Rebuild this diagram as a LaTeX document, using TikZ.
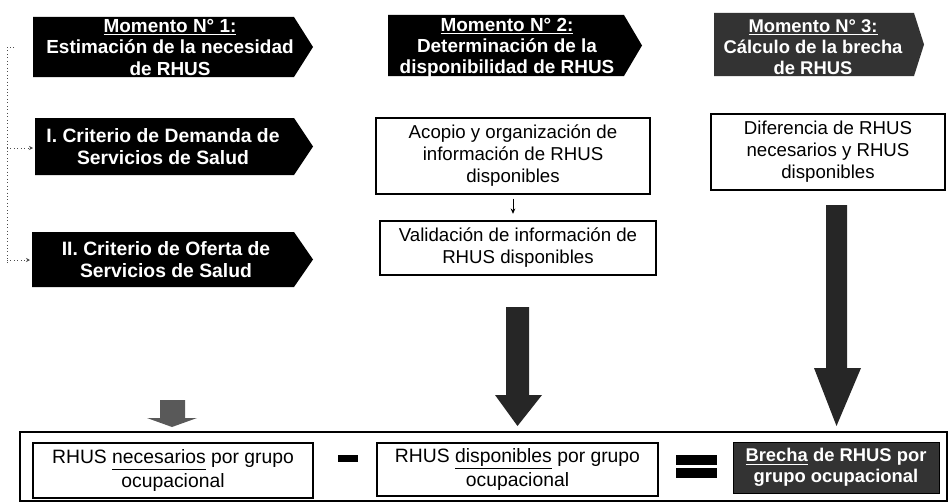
\documentclass[tikz,border=0pt]{standalone}
\usepackage{fontspec}
\setmainfont{Liberation Sans}
\usetikzlibrary{arrows.meta}
\newcommand\ulp[1]{\underline{#1\vphantom{p}}}
\begin{document}
\begin{tikzpicture}[x=0.75pt,y=-0.75pt,
  chevtxt/.style={text=white,font=\fontsize{14.2}{16}\selectfont\bfseries,align=center,inner sep=0pt},
  box/.style={draw=black,line width=0.8pt,fill=white,align=center,inner sep=2pt,font=\fontsize{14}{16.5}\selectfont},
  botbox/.style={box,font=\fontsize{14.5}{18}\selectfont},
  bigarrow/.style={fill=black!85},
  dotline/.style={dotted,line width=0.6pt,black!70}]
\useasboundingbox (0,0) rectangle (948,503);

% ---- chevrons (top row)
\fill[black] (33,17) -- (294,17) -- (313,47) -- (294,77) -- (33,77) -- cycle;
\node[chevtxt] (m1) at (170,47.5) {\underline{Momento N° 1:}\\Estimación de la necesidad\\de RHUS};

\fill[black] (388,15) -- (624,15) -- (642,45.5) -- (624,76) -- (388,76) -- cycle;
\node[chevtxt] (m2) at (507,48) {\underline{Momento N° 2:}\\Determinación de la\\disponibilidad de RHUS};

\fill[black!80] (714,13) -- (914,13) -- (924,44.5) -- (914,76) -- (714,76) -- cycle;
\node[chevtxt,font=\fontsize{13.8}{16}\selectfont\bfseries] (m3) at (813,47) {\underline{Momento N° 3:}\\Cálculo de la brecha\\de RHUS};

% ---- criteria chevrons
\fill[black] (35,118) -- (294,118) -- (313,146.5) -- (294,175) -- (35,175) -- cycle;
\node[chevtxt,font=\fontsize{14.5}{17}\selectfont\bfseries] (c1) at (163,146.5) {I. Criterio de Demanda de\\Servicios de Salud};

\fill[black] (32,232) -- (294,232) -- (313,259.5) -- (294,287) -- (32,287) -- cycle;
\node[chevtxt,font=\fontsize{14.5}{17}\selectfont\bfseries] (c2) at (166,259.5) {II. Criterio de Oferta de\\Servicios de Salud};

% ---- left dotted bracket
\coordinate (bt) at (14,47);
\coordinate (bc) at (7,47);
\coordinate (bb) at (7,262);
\coordinate (a1s) at (7,148);
\coordinate (a1e) at (33,148);
\coordinate (a2s) at (7,260);
\coordinate (a2e) at (30,260);
\draw[dotline] (bt) -- (bc) -- (bb);
\draw[dotline,-{Stealth[length=3pt,width=3pt]}] (a1s) -- (a1e);
\draw[dotline,-{Stealth[length=3pt,width=3pt]}] (a2s) -- (a2e);

% ---- process boxes
\node[box,minimum width=205.5pt,minimum height=57pt] (acopio) at (513,156) {Acopio y organización de\\información de RHUS\\disponibles};
\node[box,minimum width=207pt,minimum height=40.5pt] (valid) at (518,248) {Validación de información de\\RHUS disponibles};
\draw[line width=0.6pt,-{Stealth[length=4pt,width=3.5pt]},shorten <=3pt,shorten >=5pt] (acopio.south) -- (acopio.south |- valid.north);

\node[box,minimum width=175.5pt,minimum height=57pt] (dif) at (828,152) {Diferencia de RHUS\\necesarios y RHUS\\disponibles};

% ---- big arrows
\fill[bigarrow] (506,307) -- (529,307) -- (529,395) -- (542,395) -- (517.5,426) -- (495,395) -- (506,395) -- cycle;
\fill[bigarrow] (826,205) -- (847,205) -- (847,368) -- (861,368) -- (836.5,426) -- (814,368) -- (826,368) -- cycle;
\fill[black!65] (160,400) -- (185,400) -- (185,418) -- (197,418) -- (172,427) -- (147,418) -- (160,418) -- cycle;

% ---- bottom equation
\node[draw=black,line width=1pt,minimum width=695.25pt,minimum height=51.75pt,inner sep=0pt] (outer) at (483.5,466.5) {};
\node[botbox,minimum width=210pt,minimum height=41.25pt] (nec) at (173,470.5) {RHUS \ulp{necesarios} por grupo\\ocupacional};
\node[botbox,minimum width=210.75pt,minimum height=39.75pt] (disp) at (517.5,469.5) {RHUS \ulp{disponibles} por grupo\\ocupacional};
\node[draw=black,fill=black!80,minimum width=154.5pt,minimum height=38.25pt,inner sep=0pt,align=center,text=white,font=\fontsize{13.8}{15.5}\selectfont\bfseries] (brecha) at (836,467.5) {\underline{Brecha} de RHUS por\\grupo ocupacional};

\fill[black] (338,455) rectangle (358,462);
\fill[black] (676,455) rectangle (717,465);
\fill[black] (676,468) rectangle (717,478);
\end{tikzpicture}
\end{document}
